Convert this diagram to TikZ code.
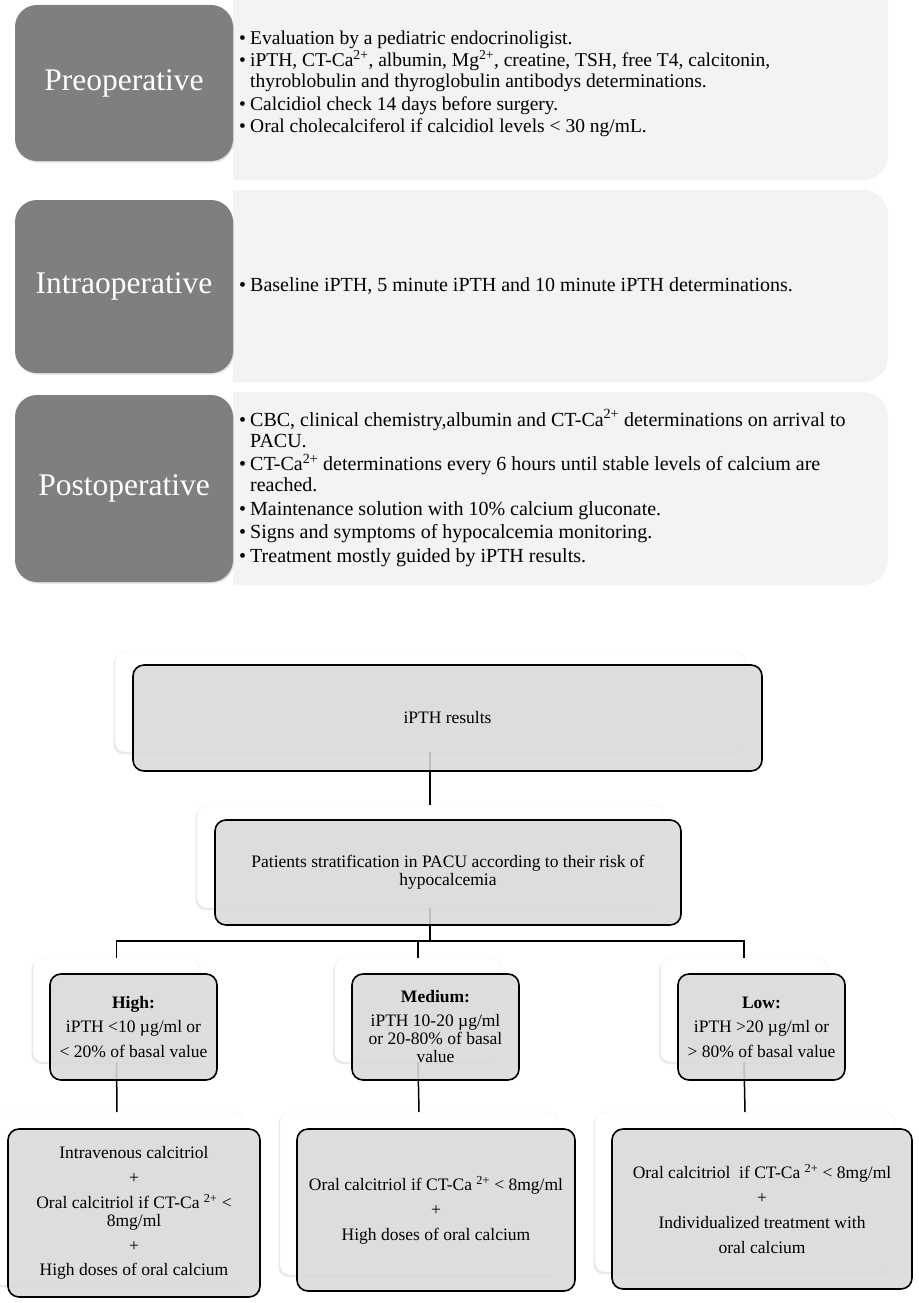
\documentclass[tikz,border=0pt]{standalone}
\usepackage{fontspec}
\setmainfont{Liberation Serif}
\usetikzlibrary{shadows}
\definecolor{darkbox}{HTML}{7F7F7F}
\definecolor{panelc}{HTML}{F3F3F3}
\definecolor{grayc}{HTML}{D9D9D9}
\newcommand\bul{\makebox[11pt][l]{\textbullet}}
\newcommand\cnt{\hspace*{11pt}}
\newcommand\sps[1]{\textsuperscript{#1}}
\tikzset{
  phase/.style={fill=darkbox, rounded corners=22pt, minimum width=218pt, inner sep=0pt, outer sep=0pt, text=white, font=\fontsize{31.5}{34}\selectfont,
     drop shadow={opacity=0.25, shadow xshift=1pt, shadow yshift=-1.5pt}},
  bullets/.style={anchor=west, align=left, inner sep=0pt, font=\fontsize{19.5}{21}\selectfont},
  bulletsb/.style={bullets, font=\fontsize{20}{21}\selectfont},
  backbox/.style={fill=white, draw=black!6, rounded corners=10pt, inner sep=0pt, outer sep=0pt,
     drop shadow={opacity=0.18, shadow xshift=-1.5pt, shadow yshift=-2pt}},
  flowbox/.style={fill=grayc, fill opacity=0.88, text opacity=1, draw=black, line width=1.6pt, rounded corners=11pt, inner sep=0pt, outer sep=0pt, align=center, font=\fontsize{17.5}{18}\selectfont},
  conn/.style={draw=black, line width=1.5pt}
}
\begin{document}
\begin{tikzpicture}[x=1pt, y=-1pt]
\useasboundingbox (0,0) rectangle (918,1303);
\clip (0,0) rectangle (918,1303);
% panels
\begin{scope}
\clip (233,-100) rectangle (918,700);
\fill[panelc, rounded corners=25pt] (200,-30) rectangle (888,180);
\fill[panelc, rounded corners=25pt] (200,190) rectangle (888,382);
\fill[panelc, rounded corners=25pt] (200,392) rectangle (888,585);
\end{scope}
% phase boxes
\node[phase, minimum height=156pt] (pre) at (124,83) {Preoperative};
\node[phase, minimum height=173pt] (intra) at (124,286.5) {Intraoperative};
\node[phase, minimum height=187pt] (post) at (124,488.5) {Postoperative};
% bullet texts
\node[bullets] (pretxt) at (239,84) {\bul Evaluation by a pediatric endocrinoligist.\\[1.5pt]
\bul iPTH, CT-Ca\sps{2+}, albumin, Mg\sps{2+}, creatine, TSH, free T4, calcitonin,\\
\cnt thyroblobulin and thyroglobulin antibodys determinations.\\[1.5pt]
\bul Calcidiol check 14 days before surgery.\\[1.5pt]
\bul Oral cholecalciferol if calcidiol levels < 30 ng/mL.};
\node[bulletsb] (intratxt) at (239,286) {\bul Baseline iPTH, 5 minute iPTH and 10 minute iPTH determinations.};
\node[bulletsb] (posttxt) at (239,488) {\bul CBC, clinical chemistry,albumin and CT-Ca\sps{2+} determinations on arrival to\\
\cnt PACU.\\[2.5pt]
\bul CT-Ca\sps{2+} determinations every 6 hours until stable levels of calcium are\\
\cnt reached.\\[2.5pt]
\bul Maintenance solution with 10\% calcium gluconate.\\[2.5pt]
\bul Signs and symptoms of hypocalcemia monitoring.\\[2.5pt]
\bul Treatment mostly guided by iPTH results.};
% flowchart back boxes
\node[backbox, minimum width=630pt, minimum height=100pt] (r1w) at (430,702) {};
\node[backbox, minimum width=466pt, minimum height=103pt] (r2w) at (430,856.5) {};
\node[backbox, minimum width=167pt, minimum height=104pt] (hw) at (116.5,1010) {};
\node[backbox, minimum width=167pt, minimum height=104pt] (mw) at (418,1010) {};
\node[backbox, minimum width=167pt, minimum height=104pt] (lw) at (744,1010) {};
\node[backbox, minimum width=252pt, minimum height=173pt] (htw) at (117,1198.5) {};
\node[backbox, minimum width=278pt, minimum height=163pt] (mtw) at (419,1193.5) {};
\node[backbox, minimum width=300pt, minimum height=160pt] (ltw) at (745,1192) {};
% connectors
\coordinate (fk) at (430,941);
\draw[conn] (r1w.south) -- (r2w.north);
\draw[conn] (r2w.south) -- (fk);
\draw[conn] (hw.north) |- (fk) -| (lw.north);
\draw[conn] (fk) -| (mw.north);
\draw[conn] (hw.south) -- (htw.north);
\draw[conn] (mw.south) -- (mtw.north);
\draw[conn] (lw.south) -- (ltw.north);
% flowchart boxes
\node[flowbox, minimum width=629pt, minimum height=106pt] (r1) at (447.5,718) {iPTH results};
\node[flowbox, minimum width=466pt, minimum height=105pt] (r2) at (448,872.5) {Patients stratification in PACU according to their risk of\\hypocalcemia};
\node[flowbox, minimum width=167pt, minimum height=106pt] (h) at (133.5,1027) {\textbf{High:}\\[6pt] iPTH <10 µg/ml or\\[7pt]< 20\% of basal value};
\node[flowbox, minimum width=167pt, minimum height=106pt] (m) at (435.5,1027) {\textbf{Medium:}\\[6pt]iPTH 10-20 µg/ml\\or 20-80\% of basal\\value};
\node[flowbox, minimum width=167pt, minimum height=106pt] (l) at (761.5,1027) {\textbf{Low:}\\[6pt] iPTH >20 µg/ml or\\[7pt]> 80\% of basal value};
\node[flowbox, minimum width=252pt, minimum height=168pt] (ht) at (134,1213) {Intravenous calcitriol\\[7pt]+\\[7pt]Oral calcitriol if CT-Ca \sps{2+} <\\8mg/ml\\[7pt]+\\[6pt]High doses of oral calcium};
\node[flowbox, minimum width=278pt, minimum height=162pt] (mt) at (436,1210) {Oral calcitriol if CT-Ca \sps{2+} < 8mg/ml\\[7pt]+\\[7pt]High doses of oral calcium};
\node[flowbox, minimum width=300pt, minimum height=160pt] (lt) at (762,1209) {Oral calcitriol\ \ if CT-Ca \sps{2+} < 8mg/ml\\[7pt]+\\[7pt]Individualized treatment with\\[7pt]oral calcium};
\end{tikzpicture}
\end{document}
